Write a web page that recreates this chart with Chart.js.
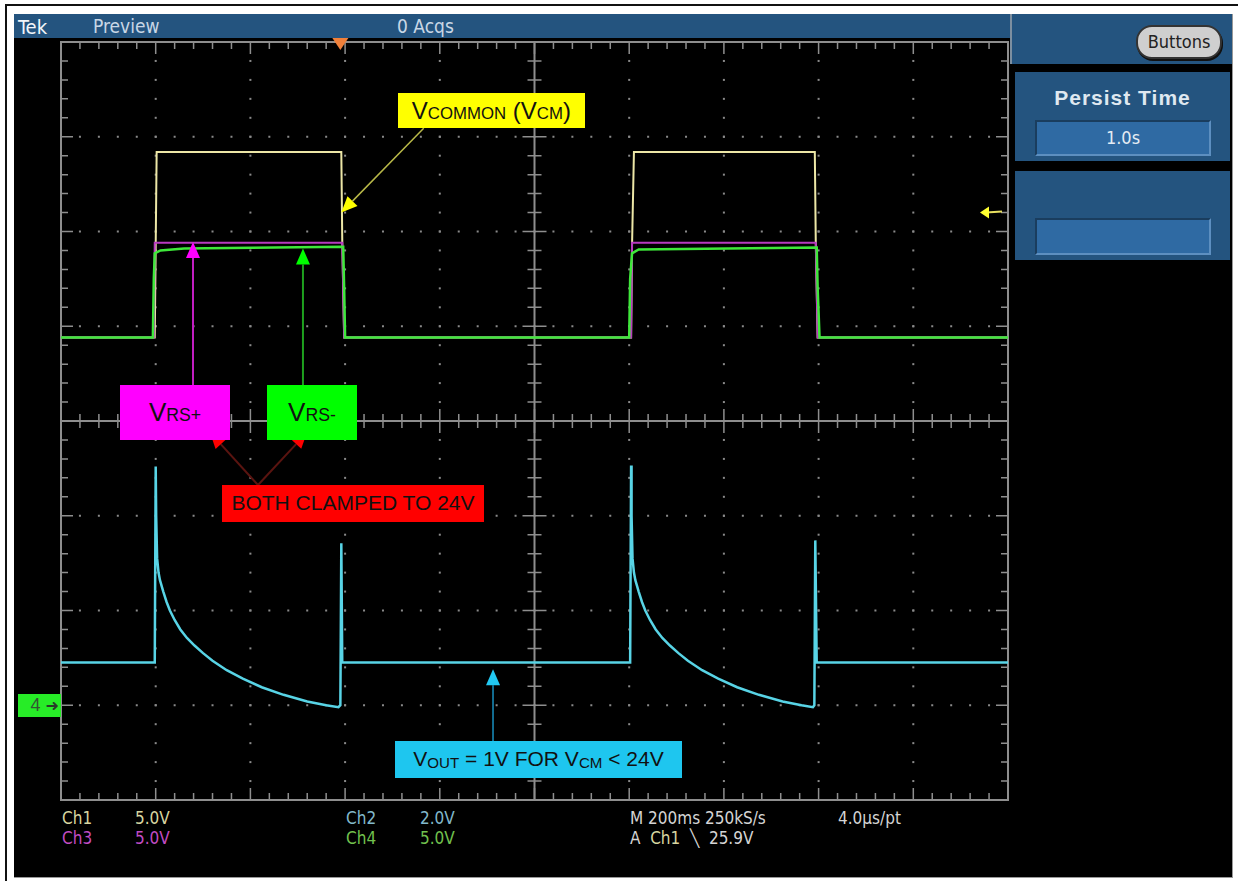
<!DOCTYPE html>
<html>
<head>
<meta charset="utf-8">
<script src="https://cdn.jsdelivr.net/npm/chart.js@4.4.1/dist/chart.umd.min.js"></script>
<style>
  body { margin: 0; background: #fff; }
  #wrap { position: relative; width: 1238px; height: 881px; overflow: hidden; background: #fff;
          font-family: 'Liberation Sans Narrow', 'DejaVu Sans Condensed', sans-serif; }
  .abs { position: absolute; }
  #screen { left: 14px; top: 14px; width: 1218px; height: 863px; background: #000;
            border-right: 1px solid #999; border-bottom: 1px solid #999; }
  #titlebar { left: 14px; top: 14px; width: 996px; height: 24px; background: #24547f; color: #c9d7e6; font-size: 19px; }
  #titlebar span { position: absolute; top: 1px; }
  .panel { background: #24547f; }
  .field { position: absolute; background: #2f6aa3; border-top: 2px solid #1a3d5e; border-left: 2px solid #1a3d5e;
           border-bottom: 2px solid #5d8fc0; border-right: 2px solid #5d8fc0; box-sizing: border-box;
           color: #e4ecf4; font-size: 18px; text-align: center; line-height: 31px; }
  #buttons { left: 1136px; top: 25px; width: 86px; height: 34px; background: #cfcfcf; border: 2px solid #333;
             border-radius: 16px; box-sizing: border-box; color: #222; font-size: 18px; text-align: center; line-height: 30px;
             box-shadow: 1px 2px 0 #111; }
  .status { font-size: 17px; }
  .lbl { position: absolute; z-index: 3; display: flex; align-items: center; justify-content: center;
         font-family: 'Liberation Sans', Arial, sans-serif; color: #111; white-space: nowrap; }
  .sub { font-size: 0.72em; position: relative; top: 0.18em; }
  canvas { position: absolute; left: 0; top: 0; z-index: 2; }
</style>
</head>
<body>
<div id="wrap">
  <div class="abs" style="left:5px;top:4px;width:1233px;height:2px;background:#111"></div>
  <div class="abs" style="left:5px;top:4px;width:2px;height:877px;background:#111"></div>
  <div id="screen" class="abs"></div>

  <div id="titlebar" class="abs">
    <span style="left:4px;color:#f2f6fa;font-size:20px">Tek</span>
    <span style="left:79px">Preview</span>
    <span style="left:383px">0 Acqs</span>
  </div>

  <div class="abs panel" style="left:1010px;top:14px;width:222px;height:50px;border-left:2px solid #7d8fa0;box-sizing:border-box"></div>
  <div id="buttons" class="abs">Buttons</div>

  <div class="abs panel" style="left:1015px;top:72px;width:215px;height:89px"></div>
  <div class="abs" style="left:1015px;top:86px;width:215px;text-align:center;color:#dfe8f0;font:bold 21px 'Liberation Sans',Arial,sans-serif;letter-spacing:1px">Persist Time</div>
  <div class="field" style="left:1035px;top:120px;width:176px;height:36px">1.0s</div>

  <div class="abs panel" style="left:1015px;top:171px;width:215px;height:89px"></div>
  <div class="field" style="left:1035px;top:218px;width:176px;height:37px"></div>

  <div class="abs status" style="left:62px;top:808px;color:#d8d6a0">Ch1</div>
  <div class="abs status" style="left:135px;top:808px;color:#d8d6a0">5.0V</div>
  <div class="abs status" style="left:62px;top:828px;color:#c24cc4">Ch3</div>
  <div class="abs status" style="left:135px;top:828px;color:#c24cc4">5.0V</div>
  <div class="abs status" style="left:346px;top:808px;color:#82b9cc">Ch2</div>
  <div class="abs status" style="left:420px;top:808px;color:#82b9cc">2.0V</div>
  <div class="abs status" style="left:346px;top:828px;color:#72c24e">Ch4</div>
  <div class="abs status" style="left:420px;top:828px;color:#72c24e">5.0V</div>
  <div class="abs status" style="left:630px;top:808px;color:#d4d4d4">M 200ms 250kS/s</div>
  <div class="abs status" style="left:838px;top:808px;color:#d4d4d4">4.0µs/pt</div>
  <div class="abs status" style="left:630px;top:828px;color:#d4d4d4">A&nbsp; <span style="color:#d8d6a0">Ch1</span> &nbsp;╲&nbsp; 25.9V</div>

  <div id="lblCom" class="lbl" style="background:#ffff00;font-size:24px">V<span class="sub" style="font-size:0.7em">COMMON</span>&nbsp;(V<span class="sub" style="font-size:0.7em">CM</span>)</div>
  <div id="lblRsp" class="lbl" style="background:#ff00ff;font-size:26px">V<span class="sub" style="font-size:0.68em">RS+</span></div>
  <div id="lblRsm" class="lbl" style="background:#00ff00;font-size:26px">V<span class="sub" style="font-size:0.68em">RS-</span></div>
  <div id="lblClamp" class="lbl" style="background:#ff0000;font-size:21px">BOTH CLAMPED TO 24V</div>
  <div id="lblOut" class="lbl" style="background:#1ec6ef;font-size:21px">V<span class="sub">OUT</span>&nbsp;= 1V FOR V<span class="sub">CM</span>&nbsp;&lt; 24V</div>
  <div id="gnd" class="lbl" style="background:#27ec27;font-size:18px;color:#335533;justify-content:flex-end;padding-right:2px;box-sizing:border-box">4&nbsp;<span style="font:bold 16px 'DejaVu Sans',sans-serif;color:#2a3a2a">➜</span></div>

  <canvas id="scope" width="1238" height="881"></canvas>
</div>

<script>
// all values in screen divisions (x: 0..10 at 200ms/div, y: -4..4)
const ch1Time = [0, 0.99, 1.0, 1.01, 2.96, 2.97, 2.99, 6.02, 6.03, 6.05, 7.96, 7.97, 7.99, 10];
const ch1Div  = [0.88, 0.88, 1.85, 2.84, 2.84, 1.9, 0.88, 0.88, 1.85, 2.84, 2.84, 1.9, 0.88, 0.88];

const ch3Time = [0, 0.98, 0.99, 2.97, 2.99, 6.02, 6.03, 7.97, 7.99, 10];
const ch3Div  = [0.88, 0.88, 1.88, 1.88, 0.88, 0.88, 1.88, 1.88, 0.88, 0.88];

const ch4Time = [0, 0.97, 0.98, 0.99, 1.05, 1.3, 2.98, 2.99, 3.0, 6.0, 6.01, 6.03, 6.1, 7.98, 7.99, 8.01, 10];
const ch4Div  = [0.88, 0.88, 1.5, 1.77, 1.8, 1.82, 1.84, 1.4, 0.88, 0.88, 1.5, 1.77, 1.81, 1.83, 1.4, 0.88, 0.88];

const ch2Time = [0, 0.99, 1.0, 1.005, 1.015, 1.03, 1.045, 1.08, 1.115, 1.15, 1.2, 1.26, 1.33, 1.41, 1.5, 1.6, 1.75, 1.92, 2.12, 2.35, 2.6, 2.8, 2.93, 2.95, 2.96, 2.97,
                 6.01, 6.02, 6.025, 6.035, 6.05, 6.065, 6.1, 6.135, 6.17, 6.22, 6.28, 6.35, 6.43, 6.52, 6.62, 6.77, 6.94, 7.14, 7.37, 7.62, 7.82, 7.94, 7.955, 7.965, 7.98, 10];
const ch2Div  = [-2.55, -2.55, -0.48, -1.0, -1.45, -1.6, -1.68, -1.8, -1.91, -2.0, -2.1, -2.2, -2.29, -2.37, -2.45, -2.53, -2.63, -2.72, -2.81, -2.89, -2.96, -3.0, -3.02, -3.0, -1.29, -2.55,
                 -2.55, -0.47, -1.0, -1.45, -1.6, -1.68, -1.8, -1.91, -2.0, -2.1, -2.2, -2.29, -2.37, -2.45, -2.53, -2.63, -2.72, -2.81, -2.89, -2.96, -3.0, -3.02, -3.0, -1.26, -2.55, -2.55];

const pts = (t, v) => t.map((x, i) => ({ x: x, y: v[i] }));

function arrow(ctx, x0, y0, x1, y1, line, head, lw) {
  const ang = Math.atan2(y1 - y0, x1 - x0), len = 16, w = 7;
  const bx = x1 - Math.cos(ang) * len, by = y1 - Math.sin(ang) * len;
  ctx.strokeStyle = line; ctx.lineWidth = lw;
  ctx.beginPath(); ctx.moveTo(x0, y0); ctx.lineTo(bx, by); ctx.stroke();
  ctx.fillStyle = head;
  ctx.beginPath();
  ctx.moveTo(x1, y1);
  ctx.lineTo(bx - Math.sin(ang) * w, by + Math.cos(ang) * w);
  ctx.lineTo(bx + Math.sin(ang) * w, by - Math.cos(ang) * w);
  ctx.closePath(); ctx.fill();
}

const graticule = {
  id: 'graticule',
  beforeDatasetsDraw(chart) {
    const { ctx, chartArea: a, scales: { x, y } } = chart;
    ctx.save();
    ctx.fillStyle = '#8a8a8a';
    // dotted division lines
    for (let i = 1; i < 10; i++) {
      if (i === 5) continue;
      for (let k = 0; k <= 40; k++) ctx.fillRect(x.getPixelForValue(i) - 1, y.getPixelForValue(-4 + k * 0.2) - 1, 2, 2);
    }
    for (let j = -3; j <= 3; j++) {
      if (j === 0) continue;
      for (let k = 0; k <= 50; k++) ctx.fillRect(x.getPixelForValue(k * 0.2) - 1, y.getPixelForValue(j) - 1, 2, 2);
    }
    ctx.strokeStyle = '#8e8e8e';
    ctx.lineWidth = 2;
    ctx.strokeRect(a.left, a.top, a.width, a.height);
    const cx = x.getPixelForValue(5), cy = y.getPixelForValue(0);
    ctx.beginPath();
    ctx.moveTo(a.left, cy); ctx.lineTo(a.right, cy);
    ctx.moveTo(cx, a.top); ctx.lineTo(cx, a.bottom);
    ctx.stroke();
    ctx.lineWidth = 1.5;
    ctx.beginPath();
    for (let k = 0; k <= 50; k++) {
      const px = x.getPixelForValue(k * 0.2), big = k % 5 === 0 ? 12 : 7;
      ctx.moveTo(px, a.top); ctx.lineTo(px, a.top + big);
      ctx.moveTo(px, a.bottom); ctx.lineTo(px, a.bottom - big);
      ctx.moveTo(px, cy - big); ctx.lineTo(px, cy + big);
    }
    for (let k = 0; k <= 40; k++) {
      const py = y.getPixelForValue(-4 + k * 0.2), big = k % 5 === 0 ? 12 : 7;
      ctx.moveTo(a.left, py); ctx.lineTo(a.left + big, py);
      ctx.moveTo(a.right, py); ctx.lineTo(a.right - big, py);
      ctx.moveTo(cx - big, py); ctx.lineTo(cx + big, py);
    }
    ctx.stroke();
    ctx.restore();
  },
  afterDatasetsDraw(chart) {
    const { ctx, chartArea: a, scales: { x, y } } = chart;
    ctx.save();
    // trigger position
    const tx = x.getPixelForValue(2.95);
    ctx.fillStyle = '#f0803a';
    ctx.beginPath(); ctx.moveTo(tx - 8, a.top - 4); ctx.lineTo(tx + 8, a.top - 4); ctx.lineTo(tx, a.top + 8); ctx.closePath(); ctx.fill();
    // trigger level
    const ty = y.getPixelForValue(2.2);
    ctx.strokeStyle = '#e8e060'; ctx.lineWidth = 2;
    ctx.beginPath(); ctx.moveTo(a.right - 22, ty); ctx.lineTo(a.right - 6, ty - 1); ctx.stroke();
    ctx.fillStyle = '#ffff30';
    ctx.beginPath(); ctx.moveTo(a.right - 28, ty); ctx.lineTo(a.right - 19, ty - 6); ctx.lineTo(a.right - 19, ty + 6); ctx.closePath(); ctx.fill();
    // callout arrows
    const P = (u, v) => [x.getPixelForValue(u), y.getPixelForValue(v)];
    let s, e;
    s = P(3.83, 3.09); e = P(2.96, 2.2);
    arrow(ctx, s[0], s[1], e[0], e[1], '#b8b848', '#ffff00', 1.5);
    s = P(1.394, 0.38); e = P(1.394, 1.89);
    arrow(ctx, s[0], s[1], e[0], e[1], '#c21ec2', '#ff00ff', 2);
    s = P(2.555, 0.38); e = P(2.555, 1.82);
    arrow(ctx, s[0], s[1], e[0], e[1], '#1ea01e', '#00ff00', 2);
    s = P(2.08, -0.675); e = P(1.573, -0.12);
    arrow(ctx, s[0], s[1], e[0], e[1], '#5a1410', '#ff0000', 2);
    s = P(2.08, -0.675); e = P(2.598, -0.12);
    arrow(ctx, s[0], s[1], e[0], e[1], '#5a1410', '#ff0000', 2);
    s = P(4.562, -3.377); e = P(4.562, -2.62);
    arrow(ctx, s[0], s[1], e[0], e[1], '#1890c0', '#22c8f2', 1.5);
    ctx.restore();
  }
};

const chart = new Chart(document.getElementById('scope'), {
  type: 'line',
  data: {
    datasets: [
      { label: 'Ch2', data: pts(ch2Time, ch2Div), borderColor: '#58d4e6', borderWidth: 2.5, order: 0 },
      { label: 'Ch4', data: pts(ch4Time, ch4Div), borderColor: '#3ee83a', borderWidth: 2.5, order: 1 },
      { label: 'Ch3', data: pts(ch3Time, ch3Div), borderColor: '#b83ac0', borderWidth: 2, order: 2 },
      { label: 'Ch1', data: pts(ch1Time, ch1Div), borderColor: '#ece6a6', borderWidth: 2, order: 3 }
    ]
  },
  options: {
    responsive: false,
    animation: false,
    devicePixelRatio: 1,
    layout: { padding: { left: 61, top: 42, right: 230, bottom: 81 } },
    elements: { point: { radius: 0 }, line: { tension: 0 } },
    plugins: { legend: { display: false }, tooltip: { enabled: false } },
    scales: {
      x: { type: 'linear', min: 0, max: 10, display: false },
      y: { type: 'linear', min: -4, max: 4, display: false }
    }
  },
  plugins: [graticule]
});

// place the callout boxes from the chart scales
function place(id, x0, x1, y0, y1) {
  const el = document.getElementById(id), sx = chart.scales.x, sy = chart.scales.y;
  const l = sx.getPixelForValue(x0), r = sx.getPixelForValue(x1);
  const t = sy.getPixelForValue(y0), b = sy.getPixelForValue(y1);
  el.style.left = l + 'px'; el.style.top = t + 'px';
  el.style.width = (r - l) + 'px'; el.style.height = (b - t) + 'px';
}
place('lblCom', 3.56, 5.53, 3.46, 3.09);
place('lblRsp', 0.623, 1.785, 0.38, -0.2);
place('lblRsm', 2.175, 3.126, 0.38, -0.2);
place('lblClamp', 1.70, 4.467, -0.675, -1.066);
place('lblOut', 3.527, 6.558, -3.377, -3.768);
place('gnd', -0.454, 0, -2.885, -3.12);
</script>
</body>
</html>
